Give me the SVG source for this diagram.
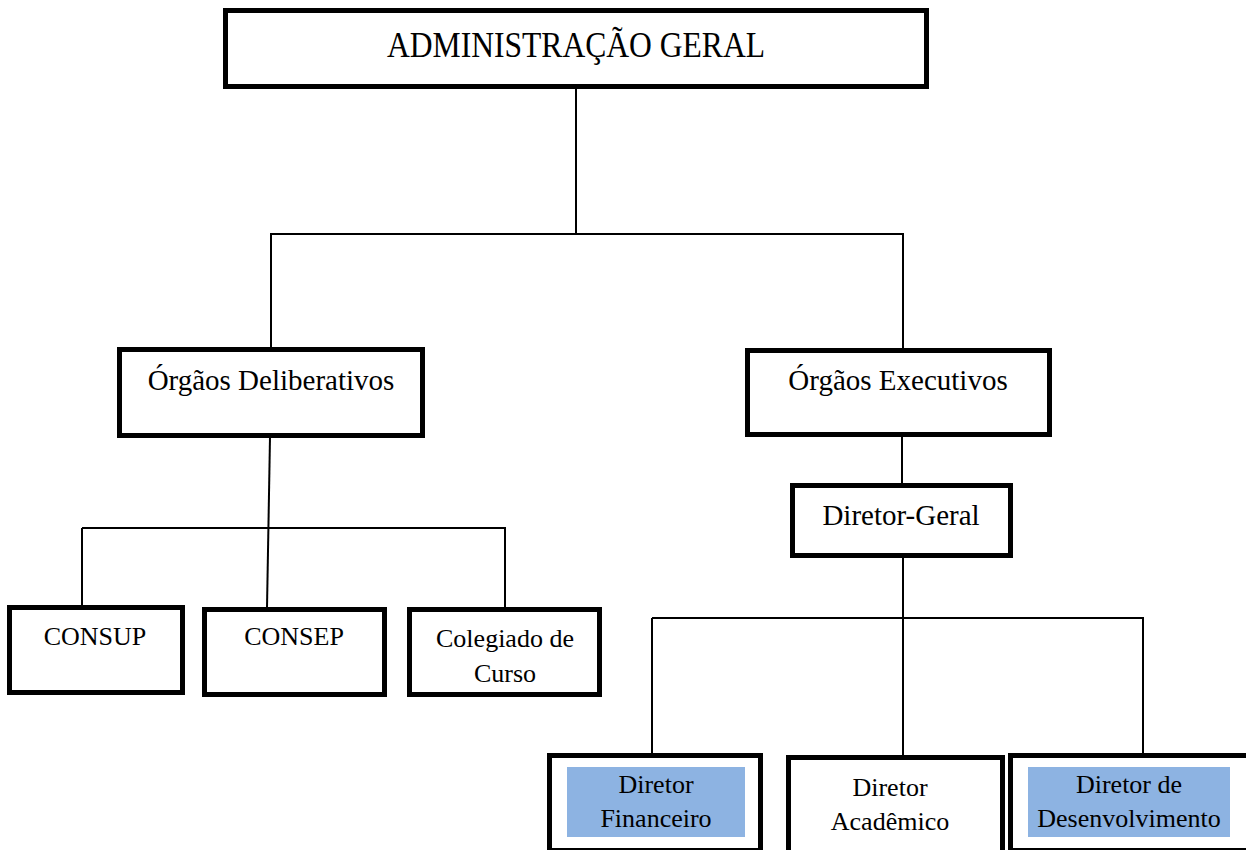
<svg xmlns="http://www.w3.org/2000/svg" width="1246" height="850" viewBox="0 0 1246 850">
  <style>
    .box { fill: #ffffff; stroke: #000000; stroke-width: 5; }
    .hl { fill: #8DB3E2; stroke: none; }
    .lbl { font-family: "Liberation Serif", "Times New Roman", serif; fill: #000000; text-anchor: middle; }
    .big { font-size: 35px; }
    .mid { font-size: 29px; }
    .sm { font-size: 26px; }
    .conn { stroke: #000000; stroke-width: 2; fill: none; }
  </style>
  <rect width="1246" height="850" fill="#ffffff"/>
  <g id="connectors">
    <line class="conn" x1="576" y1="88" x2="576" y2="233"/>
    <line class="conn" x1="270" y1="234" x2="904" y2="234"/>
    <line class="conn" x1="271" y1="234" x2="271" y2="349"/>
    <line class="conn" x1="903" y1="234" x2="903" y2="350"/>
    <line class="conn" x1="270" y1="437" x2="267" y2="608"/>
    <line class="conn" x1="82" y1="528" x2="506" y2="528"/>
    <line class="conn" x1="82" y1="528" x2="82" y2="607"/>
    <line class="conn" x1="505" y1="528" x2="505" y2="609"/>
    <line class="conn" x1="902" y1="436" x2="902" y2="485"/>
    <line class="conn" x1="903" y1="555" x2="903" y2="757"/>
    <line class="conn" x1="652" y1="618" x2="1144" y2="618"/>
    <line class="conn" x1="652" y1="618" x2="652" y2="755"/>
    <line class="conn" x1="1143" y1="618" x2="1143" y2="755"/>
  </g>
  <g id="admin-geral">
    <rect class="box" x="225.5" y="10.5" width="701" height="76"/>
    <text class="lbl big" x="576" y="57" textLength="378" lengthAdjust="spacingAndGlyphs">ADMINISTRAÇÃO GERAL</text>
  </g>
  <g id="orgaos-deliberativos">
    <rect class="box" x="119.5" y="349.5" width="303" height="86"/>
    <text class="lbl mid" x="271" y="390">Órgãos Deliberativos</text>
  </g>
  <g id="orgaos-executivos">
    <rect class="box" x="747.5" y="350.5" width="302" height="84"/>
    <text class="lbl mid" x="898" y="390">Órgãos Executivos</text>
  </g>
  <g id="diretor-geral">
    <rect class="box" x="792.5" y="485.5" width="218" height="70"/>
    <text class="lbl mid" x="901" y="525">Diretor-Geral</text>
  </g>
  <g id="consup">
    <rect class="box" x="9.5" y="607.5" width="173" height="85"/>
    <text class="lbl sm" x="95" y="645">CONSUP</text>
  </g>
  <g id="consep">
    <rect class="box" x="204.5" y="609.5" width="180" height="85"/>
    <text class="lbl sm" x="294" y="645">CONSEP</text>
  </g>
  <g id="colegiado">
    <rect class="box" x="409.5" y="609.5" width="190" height="85"/>
    <text class="lbl sm" x="505" y="647">Colegiado de</text>
    <text class="lbl sm" x="505" y="682">Curso</text>
  </g>
  <g id="diretor-financeiro">
    <rect class="box" x="549.5" y="755.5" width="211" height="95"/>
    <rect class="hl" x="567" y="767" width="178" height="70"/>
    <text class="lbl sm" x="656" y="793">Diretor</text>
    <text class="lbl sm" x="656" y="827">Financeiro</text>
  </g>
  <g id="diretor-academico">
    <rect class="box" x="788.5" y="757.5" width="214" height="95"/>
    <text class="lbl sm" x="890" y="796">Diretor</text>
    <text class="lbl sm" x="890" y="830">Acadêmico</text>
  </g>
  <g id="diretor-desenvolvimento">
    <rect class="box" x="1010.5" y="755.5" width="250" height="95"/>
    <rect class="hl" x="1028" y="767" width="202" height="70"/>
    <text class="lbl sm" x="1129" y="793">Diretor de</text>
    <text class="lbl sm" x="1129" y="827">Desenvolvimento</text>
  </g>
</svg>
